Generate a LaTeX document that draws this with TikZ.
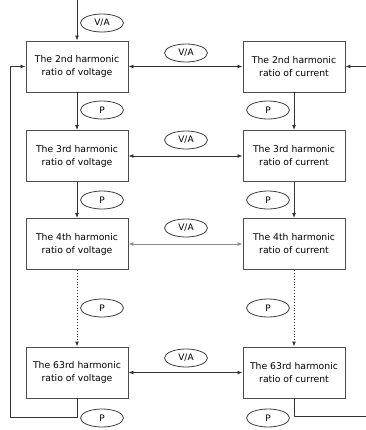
\documentclass[tikz,border=0pt]{standalone}
\usepackage{fontspec}
\setmainfont{DejaVu Sans}
\usetikzlibrary{arrows.meta,shapes.geometric}
\begin{document}
\begin{tikzpicture}[x=1bp,y=-1bp,
  hbox/.style={draw=black!70,line width=0.9pt,minimum width=102bp,minimum height=51bp,align=center,font=\fontsize{9.3}{13}\selectfont,inner sep=0pt},
  tag/.style={draw=black!75,line width=0.8pt,ellipse,minimum width=43bp,minimum height=18bp,inner sep=0pt,font=\fontsize{9}{10}\selectfont},
  conn/.style={draw=black!80,line width=0.9pt,-{Latex[length=5bp,width=4bp]}},
  dconn/.style={conn,{Latex[length=5bp,width=4bp]}-{Latex[length=5bp,width=4bp]}},
  dotconn/.style={conn,dotted}
]
\useasboundingbox (0,0) rectangle (366,430);
\fill[white] (0,0) rectangle (366,430);
% boxes
\node[hbox] (v2) at (77,66.5) {The 2nd harmonic\\ratio of voltage};
\node[hbox] (v3) at (77,156) {The 3rd harmonic\\ratio of voltage};
\node[hbox] (v4) at (77,244) {The 4th harmonic\\ratio of voltage};
\node[hbox] (v63) at (77,372.5) {The 63rd harmonic\\ratio of voltage};
\node[hbox] (c2) at (294,66.5) {The 2nd harmonic\\ratio of current};
\node[hbox] (c3) at (294,156) {The 3rd harmonic\\ratio of current};
\node[hbox] (c4) at (294,244) {The 4th harmonic\\ratio of current};
\node[hbox] (c63) at (294,372.5) {The 63rd harmonic\\ratio of current};
% tags
\node[tag] (ta) at (102,23) {V/A};
\node[tag] (m1) at (186,53) {V/A};
\node[tag] (m2) at (186,140) {V/A};
\node[tag] (m3) at (186,228) {V/A};
\node[tag] (m4) at (186,358) {V/A};
\node[tag] (pl1) at (102,110) {P};
\node[tag] (pl2) at (102,200) {P};
\node[tag] (pl3) at (102,308) {P};
\node[tag] (pl4) at (102,418) {P};
\node[tag] (pr1) at (268,110) {P};
\node[tag] (pr2) at (268,200) {P};
\node[tag] (pr3) at (268,308) {P};
\node[tag] (pr4) at (268,418) {P};
% coordinates
\coordinate (top) at (77,0);
\coordinate (bl) at (77,417);
\coordinate (blc) at (10,417);
\coordinate (tlc) at (10,66.5);
\coordinate (br) at (294,416);
\coordinate (brc) at (368,416);
\coordinate (trc) at (368,66.5);
% connectors
\draw[conn] (top) -- (v2.north);
\draw[conn] (v2) -- (v3);
\draw[conn] (v3) -- (v4);
\draw[dotconn] (v4) -- (v63);
\draw[conn] (c2) -- (c3);
\draw[conn] (c3) -- (c4);
\draw[dotconn] (c4) -- (c63);
\draw[dconn] (v2) -- (c2);
\draw[dconn] (v3) -- (c3);
\draw[dconn,draw=black!45] (v4) -- (c4);
\draw[dconn] (v63) -- (c63);
\draw[conn] (v63.south) -- (bl) -- (blc) -- (tlc) -- (v2.west);
\draw[conn] (c63.south) -- (br) -- (brc) -- (trc) -- (c2.east);
\end{tikzpicture}
\end{document}
